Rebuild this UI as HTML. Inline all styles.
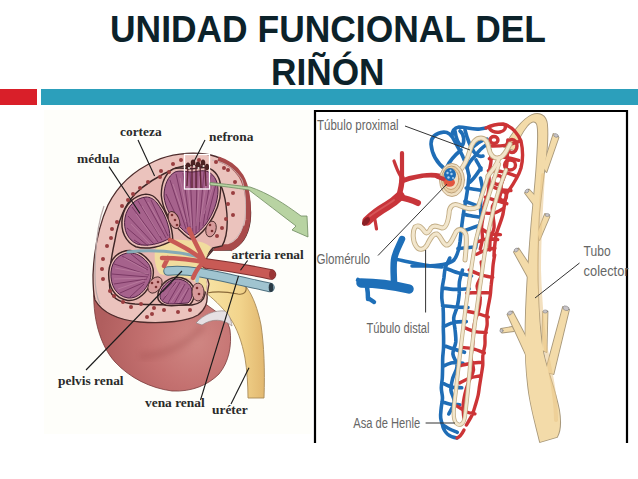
<!DOCTYPE html>
<html><head><meta charset="utf-8">
<style>
html,body{margin:0;padding:0;background:#fff;}
body{width:638px;height:479px;overflow:hidden;position:relative;}
svg{position:absolute;left:0;top:0;display:block;}
</style></head>
<body>
<svg width="638" height="479" viewBox="0 0 638 479">
<rect x="0" y="0" width="638" height="479" fill="#ffffff"/>
<rect x="44" y="110" width="268" height="324" fill="#fefefa"/>
<!-- title -->
<g font-family="Liberation Sans" font-weight="bold" font-size="36" fill="#0c222a">
<text x="110" y="42" textLength="436" lengthAdjust="spacingAndGlyphs">UNIDAD FUNCIONAL DEL</text>
<text x="271" y="85" textLength="113.5" lengthAdjust="spacingAndGlyphs">RIÑÓN</text>
</g>
<!-- bars -->
<rect x="0" y="89" width="37" height="16" fill="#d91f29"/>
<rect x="41" y="89" width="597" height="16" fill="#2c9fbb"/>
<!-- right frame -->
<path d="M315 443 V111 H627 V443" fill="none" stroke="#000" stroke-width="2.2"/>

<!-- LEFT KIDNEY -->
<defs>
<filter id="bl3" x="-20%" y="-20%" width="140%" height="140%"><feGaussianBlur stdDeviation="3"/></filter>
<radialGradient id="blob" cx="195" cy="340" r="95" gradientUnits="userSpaceOnUse">
<stop offset="0" stop-color="#d08884"/><stop offset="0.5" stop-color="#c47170"/><stop offset="1" stop-color="#b05e5e"/>
</radialGradient>
<linearGradient id="ureg" x1="0" y1="0" x2="1" y2="0">
<stop offset="0" stop-color="#f7e4a6"/><stop offset="0.6" stop-color="#f2d48c"/><stop offset="1" stop-color="#e2b870"/>
</linearGradient>
<path id="p1" d="M146,197 C136,198 127,206 125,218 C123,230 128,240 137,244 C147,247 160,244 170,238 C170,226 164,212 157,203 C154,199 150,197 146,197 Z"/>
<path id="p2" d="M175,172 C168,176 164,185 164,196 C165,208 172,220 182,229 C186,233 190,236 192,236 C196,235 201,230 206,224 C213,214 218,202 218,190 C218,180 213,173 206,171 C200,170 196,172 192,172 C186,172 180,170 175,172 Z"/>
<path id="p3" d="M130,253 C120,253 112,260 111,272 C110,285 116,296 128,298 C138,299 146,290 150,280 C152,273 151,266 147,262 C142,256 136,253 130,253 Z"/>
<path id="p4" d="M176,279 C167,280 160,288 160,296 C160,301 165,304 172,304 L188,303 C192,300 193,293 191,287 C188,282 183,279 176,279 Z"/>
</defs>
<g id="kidney">
<!-- lower exterior blob -->
<path d="M94,285 C92,318 100,345 115,362 C130,378 150,388 172,391 C192,392 208,385 219,374 C229,362 232,345 230,330 C228,321 224,316 218,313 L200,300 L120,300 Z" fill="url(#blob)" stroke="#7a3a3a" stroke-width="0.8"/>
<path d="M203,326 C195,336 186,343 170,350 C160,354 150,356 140,356" fill="none" stroke="#9a4848" stroke-width="7" opacity="0.3" filter="url(#bl3)"/>
<!-- ureter + sinus -->
<path d="M203,276 C222,278 238,281 247,288 C253,296 258,310 261,325 C264,345 265,370 264,398 L248,398 C248,385 247,370 245,358 C242,342 237,328 230,318 C222,306 212,298 205,292 Z" fill="url(#ureg)" stroke="#a88a58" stroke-width="0.9"/>
<!-- pale lip -->
<path d="M196,323 C204,314 215,310 225,311 C229,314 231,319 232,326 C224,319 212,318 202,325 Z" fill="#e6e0e3" stroke="#8a7a7a" stroke-width="0.6"/>
<!-- cut surface -->
<path d="M231,250 C241,246 248,236 250,222 C252,205 248,188 240,175 C232,163 220,156 205,154 C190,152 170,154 155,161 C135,170 118,185 108,205 C99,225 94,250 93,275 C93,285 93,292 95,300 C102,312 118,320 140,322 C165,324 188,321 198,315 C205,310 208,302 207,295 L209,284 L205,270 L207,257 L213,250 Z" fill="#ebc3bd" stroke="#4e2c2c" stroke-width="1.3"/>
<path d="M104,206 C97,225 95,250 95,275 C95,290 97,298 100,304" fill="none" stroke="#b8a8a8" stroke-width="1.2"/>
<!-- right capsule dark-red band -->
<path d="M218,159 C228,162 236,168 241,176 C248,188 249,205 248,220 C246,234 240,244 230,249" fill="none" stroke="#a84a4a" stroke-width="5"/>
<path d="M246,226 C244,236 238,244 229,247 L214,248" fill="none" stroke="#a84a4a" stroke-width="6"/>
<path d="M212,160 C226,162 236,170 242,180 C246,192 246,206 245,218 C243,230 238,238 230,243" fill="none" stroke="#c8b8b8" stroke-width="0.9"/>
<!-- inner medulla zone -->
<path d="M222,246 C228,236 228,220 226,205 C224,190 219,178 210,170 C200,164 188,164 176,168 C160,175 145,184 135,194 C124,206 118,222 115,240 C111,258 108,275 110,290 C113,300 122,303 135,304 C155,305 175,305 192,305 C200,304 204,300 205,294 L206,284 L203,270 L205,257 L213,248 Z" fill="#e7b7b1" stroke="#3e2626" stroke-width="1.4"/>
<!-- sinus fat -->
<path d="M160,241 C170,238 182,240 194,241 C200,241 206,243 211,247 L206,258 L204,270 L207,284 L206,292 C200,286 195,281 190,279 C180,276 168,276 160,274 C155,268 154,258 155,250 Z" fill="#f1dc9e"/>
<!-- pyramid outlines (double line) -->
<g fill="#e9bcb6" stroke="#3e2626" stroke-width="1.3">
<path d="M146,197 C136,198 127,206 125,218 C123,230 128,240 137,244 C147,247 160,244 170,238 C170,226 164,212 157,203 C154,199 150,197 146,197 Z" transform="translate(147,221) scale(1.12) translate(-147,-221)"/>
<path d="M175,172 C168,176 164,185 164,196 C165,208 172,220 182,229 C186,233 190,236 192,236 C196,235 201,230 206,224 C213,214 218,202 218,190 C218,180 213,173 206,171 C200,170 196,172 192,172 C186,172 180,170 175,172 Z" transform="translate(191,204) scale(1.1) translate(-191,-204)"/>
<path d="M130,253 C120,253 112,260 111,272 C110,285 116,296 128,298 C138,299 146,290 150,280 C152,273 151,266 147,262 C142,256 136,253 130,253 Z" transform="translate(131,276) scale(1.11) translate(-131,-276)"/>
<path d="M176,279 C167,280 160,288 160,296 C160,301 165,304 172,304 L188,303 C192,300 193,293 191,287 C188,282 183,279 176,279 Z" transform="translate(176,292) scale(1.14) translate(-176,-292)"/>
</g>
<g fill="#a6628c" stroke="#4a2040" stroke-width="1">
<path d="M146,197 C136,198 127,206 125,218 C123,230 128,240 137,244 C147,247 160,244 170,238 C170,226 164,212 157,203 C154,199 150,197 146,197 Z"/><path d="M175,172 C168,176 164,185 164,196 C165,208 172,220 182,229 C186,233 190,236 192,236 C196,235 201,230 206,224 C213,214 218,202 218,190 C218,180 213,173 206,171 C200,170 196,172 192,172 C186,172 180,170 175,172 Z"/><path d="M130,253 C120,253 112,260 111,272 C110,285 116,296 128,298 C138,299 146,290 150,280 C152,273 151,266 147,262 C142,256 136,253 130,253 Z"/><path d="M176,279 C167,280 160,288 160,296 C160,301 165,304 172,304 L188,303 C192,300 193,293 191,287 C188,282 183,279 176,279 Z"/>
</g>
<!-- pyramid stripes -->
<g stroke="#74325e" stroke-width="1" fill="none" opacity="0.85">
<path d="M138,201 L162,240 M132,207 L158,242 M128,216 L154,244 M144,198 L166,238 M151,200 L168,236 M127,228 L148,246 M134,240 L142,245"/>
<path d="M170,180 L186,229 M176,174 L189,232 M183,173 L191,234 M190,172 L193,235 M197,172 L196,233 M204,172 L199,230 M211,175 L203,226 M216,184 L207,220 M166,194 L181,226"/>
<path d="M114,264 L149,275 M112,274 L148,277 M114,284 L147,279 M120,293 L145,282 M122,256 L148,270 M130,297 L144,284 M131,254 L148,268"/>
<path d="M163,300 L176,282 M168,303 L180,282 M174,304 L185,284 M181,303 L189,288 M163,292 L172,283"/>
</g>
<g stroke="#c48aa8" stroke-width="1" fill="none" opacity="0.55">
<path d="M142,206 L160,236 M136,214 L155,240 M131,224 L150,244 M148,202 L164,230"/>
<path d="M173,184 L186,222 M180,178 L190,226 M187,176 L192,228 M200,176 L196,226 M207,178 L200,222 M213,186 L204,214"/>
<path d="M115,268 L148,274 M114,279 L146,278 M118,289 L144,280 M124,258 L146,270"/>
<path d="M165,296 L177,283 M171,302 L183,285 M178,303 L187,289"/>
</g>
<!-- small grape columns -->
<g fill="#d79a9a" stroke="#4a2a2a" stroke-width="0.9">
<ellipse cx="174" cy="220" rx="5" ry="9" transform="rotate(-25 174 220)"/>
<ellipse cx="211" cy="229" rx="5" ry="8" transform="rotate(15 211 229)"/>
<ellipse cx="155" cy="285" rx="6" ry="9" transform="rotate(35 155 285)"/>
<ellipse cx="198" cy="292" rx="6" ry="9"/>
</g>
<g fill="#7a3030">
<circle cx="172" cy="215" r="1.3"/><circle cx="175" cy="220" r="1.3"/><circle cx="177" cy="225" r="1.3"/><circle cx="210" cy="225" r="1.3"/><circle cx="212" cy="231" r="1.3"/>
<circle cx="152" cy="283" r="1.3"/><circle cx="156" cy="287" r="1.3"/><circle cx="158" cy="282" r="1.3"/><circle cx="197" cy="288" r="1.3"/><circle cx="199" cy="294" r="1.3"/>
</g>
<!-- cortex dots -->
<g fill="#9a3e40"><circle cx="169" cy="172" r="2"/><circle cx="161" cy="171" r="2"/><circle cx="160" cy="177" r="2"/><circle cx="148" cy="182" r="2"/><circle cx="133" cy="194" r="2"/><circle cx="128" cy="200" r="2"/><circle cx="122" cy="206" r="2"/><circle cx="117" cy="222" r="2"/><circle cx="112" cy="229" r="2"/><circle cx="111" cy="238" r="2"/><circle cx="107" cy="246" r="2"/><circle cx="103" cy="259" r="2"/><circle cx="102" cy="269" r="2"/><circle cx="103" cy="279" r="2"/><circle cx="110" cy="291" r="2"/><circle cx="114" cy="296" r="2"/><circle cx="123" cy="302" r="2"/><circle cx="131" cy="307" r="2"/><circle cx="141" cy="304" r="2"/><circle cx="154" cy="308" r="2"/><circle cx="164" cy="310" r="2"/><circle cx="152" cy="314" r="2"/><circle cx="147" cy="317" r="2"/><circle cx="178" cy="312" r="2"/><circle cx="190" cy="310" r="2"/><circle cx="228" cy="170" r="2"/><circle cx="235" cy="182" r="2"/><circle cx="233" cy="193" r="2"/><circle cx="228" cy="204" r="2"/><circle cx="233" cy="215" r="2"/><circle cx="226" cy="219" r="2"/><circle cx="222" cy="228" r="2"/><circle cx="217" cy="236" r="2"/><circle cx="216" cy="162" r="2"/><circle cx="224" cy="168" r="2"/><circle cx="181" cy="160" r="2"/><circle cx="173" cy="164" r="2"/><circle cx="140" cy="188" r="2"/><circle cx="199" cy="160" r="2"/></g>
<!-- pelvis edge line -->
<path d="M207,293 C216,291 228,292 238,294 C244,295 247,292 246,286" fill="none" stroke="#8a6a3a" stroke-width="1.1"/>
<!-- vessels in sinus -->
<g stroke-linecap="round" fill="none">
<path d="M128,252 C145,250 165,251 180,253 C188,254 194,256 200,257" stroke="#86aab6" stroke-width="3"/>
<path d="M168,271 C180,270 190,271 199,272.5 C220,276 245,282 270,287.5" stroke="#4f7180" stroke-width="9.5"/>
<path d="M168,271 C180,270 190,271 199,272.5 C220,276 245,282 270,287.5" stroke="#a0c4d0" stroke-width="7.5"/>
<path d="M198,274 L197,281" stroke="#a0c4d0" stroke-width="3.5"/>
<path d="M206,263.5 C225,266 250,270 271,274.5" stroke="#7e3232" stroke-width="10.5"/>
<path d="M206,263.5 C225,266 250,270 271,274.5" stroke="#c85a55" stroke-width="8.5"/>
<path d="M208,263 C190,259 175,258 162,258 M168,258 L164,266 M206,262 C196,254 186,248 176,243 L170,240 M204,260 C200,252 196,244 192,236 L189,229 M201,265 C197,269 195,273 193,278" stroke="#c85a55" stroke-width="4.5"/>
</g>
<ellipse cx="272" cy="274.5" rx="3" ry="5" fill="#9a3535"/>
<ellipse cx="271" cy="287.5" rx="2.3" ry="4.5" fill="#2a3a44"/>
<!-- white nefrona box -->
<rect x="184.5" y="154.5" width="25" height="34.5" fill="none" stroke="#fff" stroke-width="1.3"/>
<g stroke="#5a2030" stroke-width="1.4" fill="none" opacity="0.9"><path d="M188,165 L187,186 M192,164 L192,188 M196,166 L196,188 M200,164 L201,188 M205,166 L206,186"/></g>
<g fill="#4a2222"><ellipse cx="188" cy="166" rx="2.3" ry="3.5"/><ellipse cx="193" cy="163" rx="2.3" ry="3.5"/><ellipse cx="198" cy="165" rx="2.3" ry="3.5"/><ellipse cx="203" cy="163" rx="2.3" ry="3.5"/><ellipse cx="207" cy="167" rx="2" ry="3.2"/></g>
<g fill="#e8e4e0"><circle cx="189" cy="168" r="1"/><circle cx="194" cy="166" r="1"/><circle cx="198.5" cy="168" r="1"/><circle cx="203.5" cy="166" r="1"/></g>
<!-- green arrow -->
<path d="M210,182.5 C225,184 240,186 250,187 C268,193 285,204 301,216 L307,216 L308,237 L292,230 L296,226 C280,214 265,202 249,190 C235,188 222,186 210,185 Z" fill="#b8d3a2" stroke="#6f8a5f" stroke-width="0.8"/>
</g>

<!-- kidney labels -->
<g font-family="Liberation Serif" font-weight="bold" font-size="13.4" fill="#2a2a2a">
<text x="120" y="135.6">corteza</text>
<text x="77" y="162.7">médula</text>
<text x="209" y="141">nefrona</text>
<text x="231.5" y="259">arteria renal</text>
<text x="58" y="385">pelvis renal</text>
<text x="145" y="407">vena renal</text>
<text x="212" y="414">uréter</text>
</g>
<g stroke="#1a1a1a" stroke-width="1.1" fill="none">
<path d="M138,140 L154.6,176"/>
<path d="M109,166.6 L140,213.5"/>
<path d="M205,140 L194.4,160.7"/>
<path d="M247.6,260.5 L240.5,270.3"/>
<path d="M86,370 L182,271"/>
<path d="M238.5,276 L200.5,400"/>
<path d="M249,367.7 L231,404"/>
</g>

<!-- RIGHT NEPHRON -->
<g id="nephron" fill="none" stroke-linecap="round" stroke-linejoin="round">
<!-- collecting duct -->
<g fill="#a8987a" stroke="#a8987a" stroke-width="1.8" stroke-linejoin="round"><path d="M504,147 C511,136 521,120 532,115 C539,112 546,115 547,124 C548,135 547,150 545,165 C543,180 541,195 539,215 C538,240 537,265 538,290 C539,320 541,345 545,360 C549,375 555,390 559,410 C561,422 560,432 557,437 L540,442 C536,425 530,405 528,385 C525,360 525,340 526,310 C527,285 529,255 531,230 C533,205 536,180 537,160 C538,145 539,130 537,124 C535,120 531,121 527,126 C522,132 518,140 514,150 Z"/><path d="M543,167 L553.5,134 L558.5,137.5 L546.5,172 Z"/><path d="M535.5,207 L525,193 L529,189.5 L537,198 Z"/><path d="M537.5,233 L545,214 L549.5,216.5 L539.5,240 Z"/><path d="M529.5,280 L514,252 L518.5,248.5 L531.5,268 Z"/><path d="M526.5,356 L507.5,314.5 L512.5,311.5 L527.5,340 Z"/><path d="M542,350 L543,312 L547.5,311.5 L546.5,352 Z"/><path d="M545.5,372 L563,307 L569,309.5 L553.5,374 Z"/><path d="M512,327 L501,329 L502,332.5 L514,331 Z"/></g>
<g fill="#f3dba9" stroke="none"><path d="M504,147 C511,136 521,120 532,115 C539,112 546,115 547,124 C548,135 547,150 545,165 C543,180 541,195 539,215 C538,240 537,265 538,290 C539,320 541,345 545,360 C549,375 555,390 559,410 C561,422 560,432 557,437 L540,442 C536,425 530,405 528,385 C525,360 525,340 526,310 C527,285 529,255 531,230 C533,205 536,180 537,160 C538,145 539,130 537,124 C535,120 531,121 527,126 C522,132 518,140 514,150 Z"/><path d="M543,167 L553.5,134 L558.5,137.5 L546.5,172 Z"/><path d="M535.5,207 L525,193 L529,189.5 L537,198 Z"/><path d="M537.5,233 L545,214 L549.5,216.5 L539.5,240 Z"/><path d="M529.5,280 L514,252 L518.5,248.5 L531.5,268 Z"/><path d="M526.5,356 L507.5,314.5 L512.5,311.5 L527.5,340 Z"/><path d="M542,350 L543,312 L547.5,311.5 L546.5,352 Z"/><path d="M545.5,372 L563,307 L569,309.5 L553.5,374 Z"/><path d="M512,327 L501,329 L502,332.5 L514,331 Z"/></g>
<path d="M543,175 C541,205 539,240 539,270 C540,300 542,330 547,355 C551,375 556,395 556,420" stroke="#e9c68a" stroke-width="4" opacity="0.55" fill="none"/>
<g fill="#c8c4c8" stroke="#777" stroke-width="0.5"><ellipse cx="556" cy="135.5" rx="2.4" ry="1.7" transform="rotate(20 556 135.5)"/><ellipse cx="527" cy="191" rx="2.2" ry="1.6" transform="rotate(-40 527 191)"/><ellipse cx="547.3" cy="215" rx="2.2" ry="1.6"/><ellipse cx="516.3" cy="250" rx="2.3" ry="1.7" transform="rotate(-35 516.3 250)"/><ellipse cx="510" cy="313" rx="2.6" ry="1.8" transform="rotate(-30 510 313)"/><ellipse cx="501.5" cy="330.7" rx="1.6" ry="1.8"/><ellipse cx="545.3" cy="311.5" rx="2.3" ry="1.6"/><ellipse cx="566" cy="308.3" rx="3.2" ry="2.2" transform="rotate(20 566 308.3)"/></g>
<!-- left red artery -->
<g stroke="#c8353a">
<path d="M367,221 C374,214 380,210 387,206 C392,203 396,200 400,196" stroke-width="9.5"/>
<path d="M398,197 C405,198 412,200 418,203" stroke-width="6"/>
<path d="M398,199 C400,192 402,186 402,178" stroke-width="5.5"/>
<path d="M402,179 C402,170 402,162 402,153" stroke-width="4.2"/>
<path d="M401,177 C398,172 396,167 394,161" stroke-width="3.2"/>
<path d="M402,181 C415,176 430,174 440,176 L446,179" stroke-width="4.8"/>
<path d="M375,220 L376.5,229" stroke-width="3.2"/>
</g>
<path d="M370,216 C378,210 386,206 394,200" stroke="#e06a6a" stroke-width="2" opacity="0.6"/>
<ellipse cx="366" cy="221.5" rx="2.8" ry="5" fill="#8a1f25" transform="rotate(40 366 221.5)"/>
<!-- left blue vein -->
<g stroke="#1e6fb8">
<path d="M402,239 C399,246 395,252 394,260 C393,268 394,276 394,284" stroke-width="6.5"/>
<path d="M361,283 C375,283 392,285 409,289" stroke-width="9.5"/>
<path d="M362,283 L358,280 M367,287 C368,292 368,296 368,299 M368,298 L374,302" stroke-width="4.5"/>
<path d="M395,259 C410,262 425,266 442,267" stroke-width="3.6"/>
</g>
<!-- blue network -->
<g stroke="#1f6db6" stroke-width="3.6">
<path d="M446,170 C438,164 432,156 431,144 C431,137 436,133 444,132 C449,132 452,136 454,140 C457,146 461,152 463,157 C466,163 468,169 469,176"/>
<path d="M452,136 C452,131 454,128 459,127 C466,127 472,130 480,129 L486,128"/>
<path d="M455,131 C456,138 458,144 462,146 C465,142 464,134 460,131"/>
<path d="M465,130 C467,138 470,146 474,152 C477,156 480,157 483,156"/>
<path d="M486,145 C481,148 478,152 475,156 C471,160 468,163 467,168"/>
<path d="M470,150 C474,146 480,140 487,139"/>
<path d="M447,167 C450,160 455,155 461,150"/>
<path d="M469,176 C468,188 466,200 464,210 C462,222 461,232 460,242 C459,250 457,256 454,260 C448,265 438,266 425,266 L412,266"/>
<path d="M480.5,178.0 C480.8,179.7 482.2,184.7 482.3,188.0 C482.3,191.3 481.2,194.7 480.9,198.0 C480.6,201.3 480.5,204.7 480.5,208.0 C480.5,211.3 481.3,214.7 481.0,218.0 C480.8,221.3 479.5,224.7 478.9,228.0 C478.2,231.3 477.6,234.7 477.0,238.0 C476.5,241.3 475.8,246.3 475.5,248.0 M466.2,188.0 C467.5,188.2 471.4,188.8 474.0,189.2 C476.6,189.6 480.4,190.3 481.7,190.5 M464.9,201.3 C466.2,201.8 470.3,203.2 473.1,204.1 C475.8,205.1 479.9,206.5 481.3,207.0 M463.5,214.4 C464.9,214.6 469.2,215.4 472.0,215.9 C474.8,216.4 479.1,217.1 480.5,217.4 M461.5,231.6 C462.9,231.1 467.2,229.7 470.0,228.7 C472.8,227.8 477.1,226.3 478.5,225.8 M457.9,248.6 C459.3,248.4 463.7,248.0 466.7,247.8 C469.6,247.5 474.0,247.1 475.5,247.0"/>
<path d="M470,182 C475,178 478,172 481,168"/>
<path d="M476,160 C478,164 480,166 481,170"/>

<path d="M449.8,258.0 C449.1,259.7 446.3,264.7 445.3,268.0 C444.3,271.3 444.4,274.7 443.9,278.0 C443.3,281.3 442.6,284.7 442.2,288.0 C441.9,291.3 441.7,294.7 441.8,298.0 C442.0,301.3 442.8,304.7 443.1,308.0 C443.3,311.3 443.4,314.7 443.4,318.0 C443.5,321.3 443.3,324.7 443.3,328.0 C443.3,331.3 443.6,334.7 443.6,338.0 C443.6,341.3 443.7,344.7 443.5,348.0 C443.4,351.3 442.8,354.7 442.7,358.0 C442.5,361.3 442.7,364.7 442.6,368.0 C442.5,371.3 442.5,374.7 442.3,378.0 C442.1,381.3 441.3,384.7 441.3,388.0 C441.3,391.3 442.5,394.7 442.5,398.0 C442.4,401.3 441.5,404.7 441.2,408.0 C440.9,411.3 440.3,414.7 440.7,418.0 C441.1,421.3 443.0,426.3 443.5,428.0 M462.5,270.0 C462.0,272.0 460.0,278.0 459.4,282.0 C458.9,286.0 459.5,290.0 459.2,294.0 C458.8,298.0 458.3,302.0 457.4,306.0 C456.5,310.0 454.1,314.0 453.7,318.0 C453.4,322.0 454.8,326.0 455.1,330.0 C455.5,334.0 456.1,338.0 455.8,342.0 C455.4,346.0 452.7,350.0 452.9,354.0 C453.2,358.0 457.2,362.0 457.1,366.0 C457.1,370.0 453.9,374.0 452.8,378.0 C451.8,382.0 450.7,386.0 450.9,390.0 C451.2,394.0 454.6,398.0 454.2,402.0 C453.9,406.0 449.7,412.0 448.8,414.0 M445.0,268.0 C447.1,268.8 453.3,271.4 457.8,272.7 C462.2,274.0 469.2,275.4 471.5,275.9 M442.3,287.9 C444.4,288.2 450.8,289.3 455.3,289.4 C459.8,289.5 466.9,288.9 469.2,288.7 M442.5,305.7 C444.6,305.9 450.5,306.7 454.7,307.0 C459.0,307.3 465.8,307.4 468.0,307.5 M443.2,326.7 C445.1,326.0 450.4,323.2 454.3,322.3 C458.1,321.5 464.3,321.7 466.3,321.6 M443.8,345.5 C445.5,346.1 450.2,347.8 453.7,349.0 C457.1,350.1 462.7,351.8 464.5,352.3 M442.9,366.3 C444.5,365.7 449.1,363.3 452.4,362.8 C455.7,362.3 461.2,363.1 462.9,363.2 M442.0,382.8 C443.6,383.5 448.1,386.1 451.4,386.9 C454.6,387.7 460.0,387.6 461.7,387.8 M441.9,401.8 C443.3,402.2 447.4,403.8 450.3,404.2 C453.3,404.7 458.2,404.6 459.7,404.7 M443.0,425.0 C444.1,425.6 447.3,427.8 449.6,429.0 C452.0,430.2 456.0,431.7 457.3,432.3"/>
<path d="M443,426 C444,432 449,437 457,438"/>
</g>
<!-- red network -->
<g stroke="#cc3436" stroke-width="3.4">
<path d="M486,128 C492,125 498,124 503,124 C511,126 517,132 521,141 C523,150 523,160 521,168 C518,178 512,186 507,193 C505,200 504,208 503,214 C501,222 498,228 496,235 C495,243 494,250 494,256"/>
<path d="M489,127 C490,131 495,133 500,132 C505,131 506,128 505,125"/>
<ellipse cx="512" cy="146" rx="5" ry="6.5"/><ellipse cx="510" cy="165" rx="5.5" ry="5"/><ellipse cx="498" cy="180" rx="4.5" ry="4.5"/><ellipse cx="503" cy="196" rx="3.5" ry="4.5"/><ellipse cx="494" cy="140" rx="4" ry="3.5"/>
<path d="M507.8,140.0 C507.8,141.8 507.7,147.3 507.6,151.0 C507.4,154.7 507.3,158.3 507.0,162.0 C506.6,165.7 506.4,169.3 505.4,173.0 C504.5,176.7 502.3,180.3 501.5,184.0 C500.6,187.7 501.6,191.3 500.2,195.0 C498.7,198.7 493.8,202.3 492.6,206.0 C491.5,209.7 493.0,213.3 493.2,217.0 C493.4,220.7 494.5,224.3 494.0,228.0 C493.6,231.7 491.0,235.3 490.3,239.0 C489.6,242.7 489.9,248.2 489.8,250.0 M490.1,150.0 C490.2,151.8 491.2,157.3 491.0,161.0 C490.9,164.7 489.5,168.3 489.2,172.0 C488.9,175.7 489.3,179.3 489.1,183.0 C488.9,186.7 488.8,190.3 488.0,194.0 C487.2,197.7 485.0,201.3 484.2,205.0 C483.4,208.7 483.6,212.3 483.2,216.0 C482.8,219.7 481.7,223.3 481.6,227.0 C481.5,230.7 482.7,234.3 482.5,238.0 C482.3,241.7 480.7,247.2 480.3,249.0 M489.8,146.0 C492.3,145.9 499.9,146.2 505.0,145.4 C510.1,144.6 517.7,141.9 520.3,141.2 M489.3,158.7 C491.7,158.5 499.1,157.0 504.0,157.3 C508.9,157.6 516.3,159.8 518.8,160.3 M488.3,170.7 C490.6,170.8 497.5,170.7 502.0,171.6 C506.6,172.4 513.4,175.2 515.7,175.9 M486.9,183.8 C488.9,184.7 494.9,188.3 498.9,189.4 C502.9,190.5 508.9,190.3 510.9,190.5 M485.3,197.2 C487.1,197.8 492.5,199.6 496.1,200.7 C499.7,201.8 505.0,203.2 506.8,203.7 M482.9,212.6 C484.6,212.7 489.8,213.9 493.2,213.2 C496.6,212.5 501.8,209.3 503.5,208.5 M480.3,228.1 C482.0,229.0 487.0,232.6 490.4,233.7 C493.7,234.8 498.7,234.5 500.4,234.6 M478.3,241.6 C480.0,241.1 484.8,238.9 488.0,238.6 C491.2,238.3 496.0,239.4 497.7,239.6 M476.5,254.3 C478.1,253.6 482.6,251.1 485.7,250.1 C488.7,249.0 493.3,248.5 494.8,248.2"/>
<path d="M494.7,255.0 C494.4,256.7 493.5,261.7 493.1,265.0 C492.7,268.3 492.7,271.7 492.4,275.0 C492.1,278.3 491.5,281.7 491.2,285.0 C490.8,288.3 490.8,291.7 490.3,295.0 C489.9,298.3 489.1,301.7 488.5,305.0 C487.9,308.3 487.2,311.7 486.9,315.0 C486.7,318.3 487.4,321.7 487.1,325.0 C486.8,328.3 485.4,331.7 485.1,335.0 C484.7,338.3 485.3,341.7 484.9,345.0 C484.6,348.3 483.2,351.7 482.9,355.0 C482.5,358.3 483.0,361.7 482.8,365.0 C482.5,368.3 481.8,371.7 481.3,375.0 C480.8,378.3 480.2,381.7 479.7,385.0 C479.1,388.3 478.9,391.7 478.2,395.0 C477.5,398.3 476.4,401.7 475.4,405.0 C474.4,408.3 473.6,411.7 472.1,415.0 C470.6,418.3 467.3,423.3 466.4,425.0 M481.2,262.0 C481.3,264.0 482.7,270.0 482.1,274.0 C481.4,278.0 477.4,282.0 477.1,286.0 C476.8,290.0 480.0,294.0 480.2,298.0 C480.5,302.0 479.7,306.0 478.8,310.0 C477.9,314.0 475.7,318.0 474.8,322.0 C473.8,326.0 473.6,330.0 473.3,334.0 C472.9,338.0 473.0,342.0 472.6,346.0 C472.2,350.0 470.9,354.0 471.0,358.0 C471.2,362.0 473.9,366.0 473.5,370.0 C473.1,374.0 470.0,378.0 468.6,382.0 C467.1,386.0 465.8,390.0 464.9,394.0 C464.0,398.0 463.2,402.0 463.1,406.0 C462.9,410.0 463.7,416.0 463.8,418.0 M469.3,270.0 C471.2,270.8 477.1,273.6 481.0,274.8 C484.9,276.0 490.8,277.0 492.7,277.4 M466.8,293.1 C468.8,293.0 474.7,292.5 478.7,292.5 C482.7,292.5 488.6,292.8 490.6,292.9 M465.6,311.0 C467.5,311.4 473.1,312.3 476.9,313.3 C480.7,314.3 486.3,316.4 488.2,317.1 M464.2,327.6 C466.1,328.3 471.6,330.8 475.2,331.6 C478.9,332.4 484.4,332.3 486.2,332.5 M462.3,347.5 C464.1,347.7 469.6,348.0 473.3,348.9 C476.9,349.8 482.4,352.2 484.3,352.9 M461.0,365.5 C462.7,365.1 468.0,363.7 471.4,363.2 C474.9,362.6 480.2,362.3 481.9,362.2 M459.7,382.9 C461.4,382.1 466.3,379.3 469.6,378.1 C472.9,377.0 477.9,376.4 479.6,376.0 M457.1,406.1 C458.6,407.0 463.0,410.4 466.0,411.7 C468.9,413.0 473.4,413.5 474.9,413.8"/>
<path d="M464,430 C462,434 460,437 457,438"/>
</g>
<!-- beige tubules -->
<g stroke="#c2ad85" stroke-width="5">
<path id="t1" d="M459,172 C464,166 468,158 470,150 C472,143 476,138 481,138 C486,138 488,143 489,149 C490,155 494,159 499,158 C504,157 507,150 510,144"/>
<path id="t2" d="M499,158 C497,166 492,170 488,176"/>
<path id="t4" d="M478,207 C470,211 463,207 458,205 C452,203 449,208 449,214 C448,222 446,228 442,228 C438,227 434,224 431,228 C429,232 427,234 425,232 C422,228 419,224 415,227 C412,232 413,242 416,246 C419,251 424,250 427,245 C430,239 433,233 437,234 C441,236 442,243 446,245 C450,246 453,238 456,232 C459,228 464,229 466,235 C467,242 466,250 465,260"/>
</g>
<g stroke="#c2ad85" stroke-width="4.2">
<path id="t3" d="M499,164 C492,185 482,215 476,240 C472,260 469,285 466,305 C463,330 459,360 456,390 C454,405 452,418 456,423 C460,427 464,424 465,416 C467,400 469,380 471,355 C474,330 477,305 481,280 C484,255 489,225 496,200 C499,188 503,178 506,170"/>
<path id="t5" d="M488,176 C484,190 480,200 478,207"/>
</g>
<g stroke="#f2e6cc" stroke-width="3.2">
<path d="M459,172 C464,166 468,158 470,150 C472,143 476,138 481,138 C486,138 488,143 489,149 C490,155 494,159 499,158 C504,157 507,150 510,144"/><path d="M499,158 C497,166 492,170 488,176"/><path d="M478,207 C470,211 463,207 458,205 C452,203 449,208 449,214 C448,222 446,228 442,228 C438,227 434,224 431,228 C429,232 427,234 425,232 C422,228 419,224 415,227 C412,232 413,242 416,246 C419,251 424,250 427,245 C430,239 433,233 437,234 C441,236 442,243 446,245 C450,246 453,238 456,232 C459,228 464,229 466,235 C467,242 466,250 465,260"/>
</g>
<g stroke="#f2e6cc" stroke-width="2.6">
<path d="M499,164 C492,185 482,215 476,240 C472,260 469,285 466,305 C463,330 459,360 456,390 C454,405 452,418 456,423 C460,427 464,424 465,416 C467,400 469,380 471,355 C474,330 477,305 481,280 C484,255 489,225 496,200 C499,188 503,178 506,170"/><path d="M488,176 C484,190 480,200 478,207"/>
</g>
<!-- glomerulus -->
<ellipse cx="452" cy="180" rx="12.5" ry="16.5" fill="#efdfc2" stroke="#c2a884" stroke-width="1"/>
<ellipse cx="451.5" cy="179.5" rx="10" ry="13.5" fill="#e8cfa6" stroke="#b89a70" stroke-width="0.9"/>
<ellipse cx="451" cy="179" rx="7.8" ry="10.5" fill="#f2dfc0" stroke="#c49a68" stroke-width="0.9"/>
<path d="M437,176.5 L446,180" stroke="#c8353a" stroke-width="4.2" stroke-linecap="round"/>
<ellipse cx="449.5" cy="182.5" rx="5.5" ry="4.2" fill="#e2553f"/>
<ellipse cx="450" cy="174.5" rx="6" ry="6.5" fill="#1f6db6"/>
<g fill="#a8d0f0"><circle cx="447.5" cy="173" r="1.2"/><circle cx="451.5" cy="174" r="1.2"/><circle cx="448.5" cy="177.5" r="1.2"/><circle cx="450.5" cy="170.5" r="1"/><circle cx="453" cy="178" r="1"/></g>
</g>
<!-- nephron labels -->
<g font-family="Liberation Sans" font-size="15.5" fill="#666">
<text x="317" y="130.4" textLength="81.6" lengthAdjust="spacingAndGlyphs">Túbulo proximal</text>
<text x="316.4" y="263.6" textLength="53.6" lengthAdjust="spacingAndGlyphs">Glomérulo</text>
<text x="366.5" y="332.6" textLength="63" lengthAdjust="spacingAndGlyphs">Túbulo distal</text>
<text x="353.2" y="427.5" textLength="67" lengthAdjust="spacingAndGlyphs">Asa de Henle</text>
<text x="583.6" y="255.7" textLength="27" lengthAdjust="spacingAndGlyphs">Tubo</text>
<text x="583.6" y="276.4" textLength="45" lengthAdjust="spacingAndGlyphs">colector</text>
</g>
<g stroke="#333" stroke-width="1" fill="none">
<path d="M405,126 L470,150"/>
<path d="M378,255.5 L447,184"/>
<path d="M425.6,250 L425.6,312.5"/>
<path d="M425.6,423 L455,423"/>
<path d="M579.5,263 L535,298"/>
</g>

</svg>
</body></html>
